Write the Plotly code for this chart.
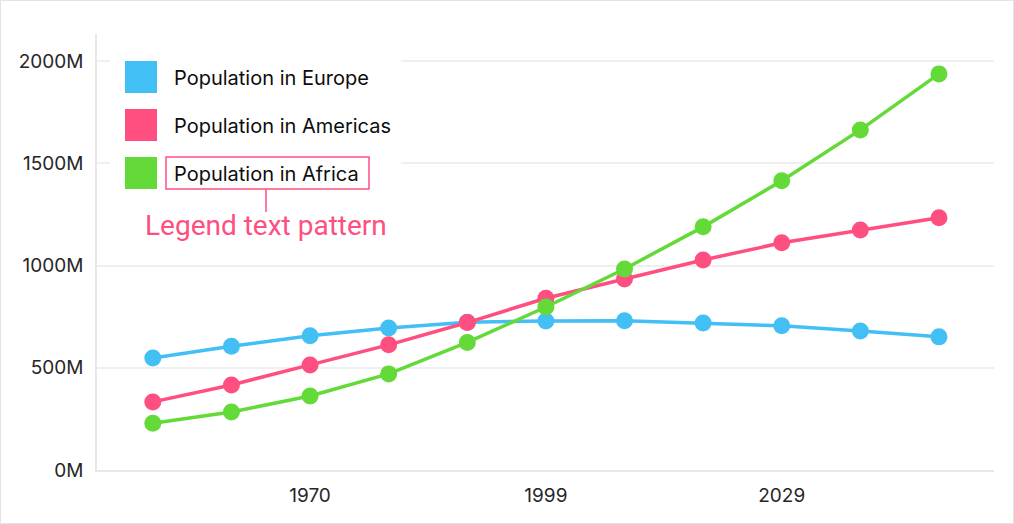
import plotly.graph_objects as go

years = [1950, 1960, 1970, 1980, 1990, 2000, 2010, 2020, 2030, 2040, 2050]
europe = [548, 605, 656, 694, 723, 729, 730, 719, 705, 680, 651]
americas = [333, 416, 514, 612, 721, 840, 934, 1027, 1111, 1174, 1233]
africa = [229, 284, 362, 470, 624, 797, 983, 1189, 1414, 1663, 1937]

series_names = ["Population in Europe", "Population in Americas", "Population in Africa"]
series_colors = ["#42bff4", "#ff4f81", "#63da38"]

x_tick_vals = [1970, 2000, 2030]
x_tick_text = ["1970", "1999", "2029"]
y_tick_vals = [0, 500, 1000, 1500, 2000]
y_tick_text = ["0M", "500M", "1000M", "1500M", "2000M"]

W, H = 1014, 524
L, R, T, B = 97, 20, 34, 54
PW, PH = W - L - R, H - T - B


def px(x):
    return (x - L) / PW


def py(y):
    return (H - B - y) / PH


fig = go.Figure()
for name, vals, col in zip(series_names, [europe, americas, africa], series_colors):
    fig.add_trace(go.Scatter(
        x=years, y=vals, name=name, mode="lines+markers",
        line=dict(color=col, width=3.5),
        marker=dict(color=col, size=17),
        showlegend=False,
    ))

shapes = []
annotations = []
# outer frame
shapes.append(dict(type="rect", xref="paper", yref="paper",
                   x0=px(0.5), x1=px(W - 0.5), y0=py(H - 0.5), y1=py(0.5),
                   line=dict(color="#e3e3e3", width=1), fillcolor="rgba(0,0,0,0)", layer="below"))
# legend background
shapes.append(dict(type="rect", xref="paper", yref="paper",
                   x0=px(110), x1=px(401), y0=py(200), y1=py(45),
                   line=dict(width=0), fillcolor="white", layer="above"))
for i, (name, col) in enumerate(zip(series_names, series_colors)):
    top = 61 + 48 * i
    shapes.append(dict(type="rect", xref="paper", yref="paper",
                       x0=px(125), x1=px(157), y0=py(top + 32), y1=py(top),
                       line=dict(width=0), fillcolor=col, layer="above"))
    annotations.append(dict(xref="paper", yref="paper", x=px(172), y=py(top + 17),
                            text=name, showarrow=False, xanchor="left", yanchor="middle",
                            font=dict(family="Inter, Roboto, sans-serif", size=20, color="#0d0d0d")))
# highlight box around Africa legend text
shapes.append(dict(type="rect", xref="paper", yref="paper",
                   x0=px(166), x1=px(369), y0=py(189), y1=py(157),
                   line=dict(color="#ff4f81", width=1.5), fillcolor="rgba(0,0,0,0)", layer="above"))
shapes.append(dict(type="line", xref="paper", yref="paper",
                   x0=px(266), x1=px(266), y0=py(189), y1=py(212),
                   line=dict(color="#ff4f81", width=1.5), layer="above"))
annotations.append(dict(xref="paper", yref="paper", x=px(266), y=py(225),
                        text="Legend text pattern", showarrow=False,
                        xanchor="center", yanchor="middle",
                        font=dict(family="Roboto, sans-serif", size=28, color="#ff4f81")))

fig.update_layout(
    width=W, height=H,
    margin=dict(l=L, r=R, t=T, b=B, pad=0),
    paper_bgcolor="white", plot_bgcolor="white",
    font=dict(family="Inter, Roboto, sans-serif", size=19, color="#262626"),
    shapes=shapes, annotations=annotations,
    xaxis=dict(range=[1942.9, 2057.0], tickvals=x_tick_vals, ticktext=x_tick_text,
               showgrid=False, zeroline=False, showline=True, linecolor="#e8e8e8", linewidth=1.5,
               ticks="", ticklabelstandoff=7, fixedrange=True),
    yaxis=dict(range=[0, 2132], tickvals=y_tick_vals, ticktext=y_tick_text,
               showgrid=True, gridcolor="#efefef", gridwidth=1.5, zeroline=False,
               showline=True, linecolor="#e8e8e8", linewidth=1.5,
               ticks="", ticklabelstandoff=8, fixedrange=True),
)

fig.write_html("out.html", config={"displayModeBar": False},
               post_script="document.body.style.margin='0';document.body.style.overflow='hidden';")
